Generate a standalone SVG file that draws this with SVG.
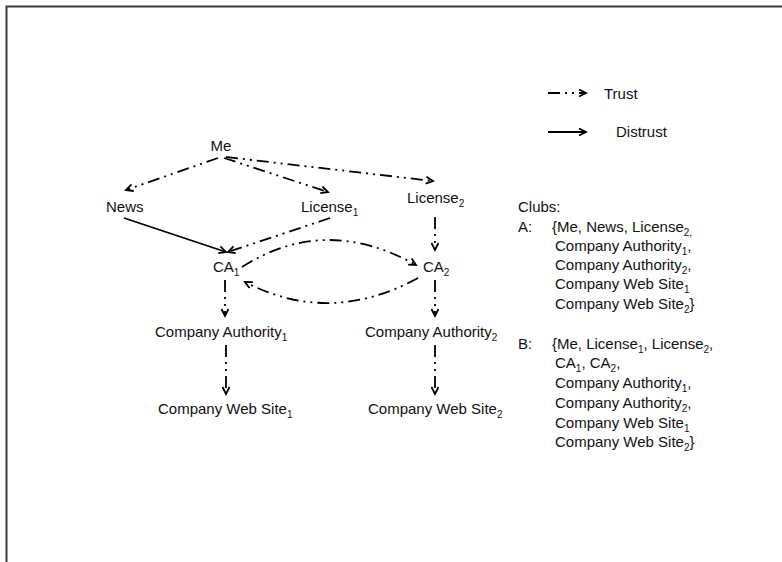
<svg xmlns="http://www.w3.org/2000/svg" width="782" height="562" viewBox="0 0 782 562">
  <style>
    text { font-family: "Liberation Sans", Arial, sans-serif; font-size: 15px; fill: #111; }
    .sub { font-size: 10px; }
    .edge { fill: none; stroke: #000; stroke-width: 1.8; }
    .trust { stroke-dasharray: 12 5 2 5 2 5; marker-end: url(#chev); }
    .distrust { marker-end: url(#chev); }
    .frame { stroke: #3a3a3a; stroke-width: 2; fill: none; }
  </style>
  <defs>
    <marker id="chev" markerUnits="userSpaceOnUse" markerWidth="12" markerHeight="12" refX="8" refY="4" orient="auto">
      <path d="M1,0.5 L8,4 L1,7.5" fill="none" stroke="#000" stroke-width="1.8"/>
    </marker>
  </defs>
  <rect width="782" height="562" fill="#fff"/>
  <!-- page frame -->
  <path class="frame" d="M6.5,562 L6.5,6.5 L782,6.5"/>

  <!-- connectors -->
  <g id="connectors">
    <path class="edge trust" d="M218,158 L126,190"/>
    <path class="edge trust" d="M224,158 L328,192"/>
    <path class="edge trust" d="M226,157 L433,181"/>
    <path class="edge distrust" d="M124,218 L226,252"/>
    <path class="edge trust" d="M330,218 L228,252"/>
    <path class="edge trust" d="M435,217 L435,250"/>
    <path class="edge trust" d="M242,267 Q325,214 416,265"/>
    <path class="edge trust" d="M418,278 Q330,326 245,282"/>
    <path class="edge trust" d="M225,280 L225,316"/>
    <path class="edge trust" d="M435,280 L435,316"/>
    <path class="edge trust" d="M226,345 L226,394"/>
    <path class="edge trust" d="M435,345 L435,394"/>
  </g>

  <!-- nodes -->
  <g id="node-me"><text x="221" y="151" text-anchor="middle">Me</text></g>
  <g id="node-news"><text x="106" y="212">News</text></g>
  <g id="node-license1"><text x="301" y="212">License<tspan class="sub" dy="4">1</tspan></text></g>
  <g id="node-license2"><text x="407" y="203">License<tspan class="sub" dy="4">2</tspan></text></g>
  <g id="node-ca1"><text x="213" y="272">CA<tspan class="sub" dy="4">1</tspan></text></g>
  <g id="node-ca2"><text x="423" y="272">CA<tspan class="sub" dy="4">2</tspan></text></g>
  <g id="node-authority1"><text x="155" y="337">Company Authority<tspan class="sub" dy="4">1</tspan></text></g>
  <g id="node-authority2"><text x="365" y="337">Company Authority<tspan class="sub" dy="4">2</tspan></text></g>
  <g id="node-website1"><text x="158" y="414">Company Web Site<tspan class="sub" dy="4">1</tspan></text></g>
  <g id="node-website2"><text x="368" y="414">Company Web Site<tspan class="sub" dy="4">2</tspan></text></g>

  <!-- legend -->
  <g id="legend">
    <path class="edge trust" d="M548,93 L586,93"/>
    <text x="604" y="99">Trust</text>
    <path class="edge distrust" d="M548,132 L586,132"/>
    <text x="616" y="137">Distrust</text>
  </g>

  <!-- club listing -->
  <g id="clubs">
    <text x="518" y="212">Clubs:</text>
    <text x="518" y="232">A:</text>
    <text x="552" y="232">{Me, News, License<tspan class="sub" dy="4">2,</tspan></text>
    <text x="555" y="251">Company Authority<tspan class="sub" dy="4">1</tspan><tspan dy="-4">,</tspan></text>
    <text x="555" y="270">Company Authority<tspan class="sub" dy="4">2</tspan><tspan dy="-4">,</tspan></text>
    <text x="555" y="289">Company Web Site<tspan class="sub" dy="4">1</tspan></text>
    <text x="555" y="309">Company Web Site<tspan class="sub" dy="4">2</tspan><tspan dy="-4">}</tspan></text>
    <text x="518" y="349">B:</text>
    <text x="552" y="349">{Me, License<tspan class="sub" dy="4">1</tspan><tspan dy="-4">, License</tspan><tspan class="sub" dy="4">2</tspan><tspan dy="-4">,</tspan></text>
    <text x="555" y="368">CA<tspan class="sub" dy="4">1</tspan><tspan dy="-4">, CA</tspan><tspan class="sub" dy="4">2</tspan><tspan dy="-4">,</tspan></text>
    <text x="555" y="388">Company Authority<tspan class="sub" dy="4">1</tspan><tspan dy="-4">,</tspan></text>
    <text x="555" y="408">Company Authority<tspan class="sub" dy="4">2</tspan><tspan dy="-4">,</tspan></text>
    <text x="555" y="428">Company Web Site<tspan class="sub" dy="4">1</tspan></text>
    <text x="555" y="447">Company Web Site<tspan class="sub" dy="4">2</tspan><tspan dy="-4">}</tspan></text>
  </g>
</svg>
